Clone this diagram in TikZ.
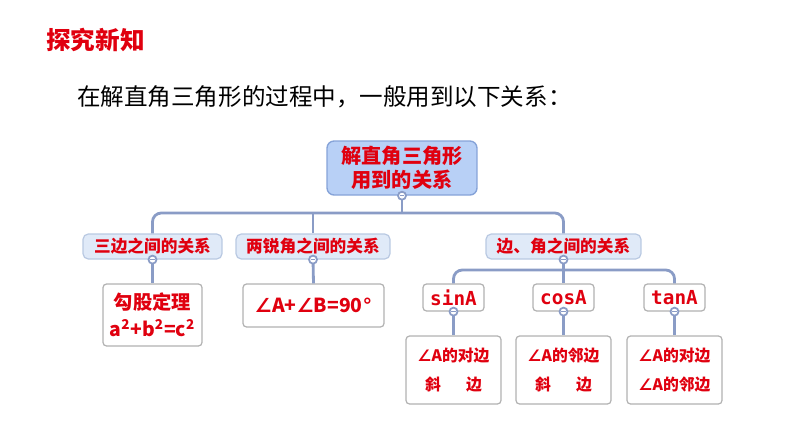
\documentclass[tikz,border=0pt]{standalone}
\usepackage{fontspec}
\setmainfont{Noto Sans CJK SC}
\newfontfamily\symb{DejaVu Sans}
\newfontfamily\mono{DejaVu Sans Mono}
\usetikzlibrary{calc}
\definecolor{mapred}{HTML}{E0000F}
\definecolor{linkblue}{HTML}{8A9CC6}
\definecolor{rootfill}{HTML}{B8D0F6}
\definecolor{rootedge}{HTML}{86A3D8}
\definecolor{subfill}{HTML}{E0EAF8}
\definecolor{subedge}{HTML}{B9C9E2}
\def\handle(#1){\draw[linkblue, line width=1pt, fill=white] (#1) circle [radius=4]; \draw[linkblue, line width=0.8pt] ($(#1)+(-2.2,0)$) -- ($(#1)+(2.2,0)$);}

\begin{document}
\begin{tikzpicture}[x=0.02cm, y=-0.02cm,
	rootbox/.style={draw=rootedge, fill=rootfill, rounded corners=4pt, line width=0.8pt, text=mapred, font=\bfseries\fontsize{11.5}{13.8}\selectfont, align=center, inner sep=0pt},
	subbox/.style={draw=subedge, fill=subfill, rounded corners=3pt, line width=0.7pt, text=mapred, font=\bfseries\fontsize{9.5}{11}\selectfont, inner sep=0pt, minimum height=0.5cm},
	leafbox/.style={draw=black!30, fill=white, rounded corners=2pt, line width=0.7pt, text=mapred, font=\bfseries, align=center, inner sep=0pt},
	link/.style={linkblue, line width=1.6pt}]
		%%%%% START %%%%%
		\useasboundingbox (0, 0) rectangle (794, 447);
		
		\node[text=mapred, font=\bfseries\fontsize{14}{16}\selectfont, anchor=west] (title) at (40, 40) {探究新知};
		\node[font=\fontsize{13.4}{16}\selectfont, anchor=west] (intro) at (71, 97) {在解直角三角形的过程中，一般用到以下关系：};
		
		% root and first level
		\node[rootbox, minimum width=3cm, minimum height=1.08cm] (root) at (402, 168) {解直角三角形\\用到的关系};
		\node[subbox, minimum width=2.78cm] (sides) at (152.5, 246.5) {三边之间的关系};
		\node[subbox, minimum width=3.08cm] (angles) at (313, 246.5) {两锐角之间的关系};
		\node[subbox, minimum width=3.1cm] (mixed) at (563.5, 246.5) {边、角之间的关系};
		
		\coordinate (bar) at (0, 213);
		\draw[link, rounded corners=5] (sides.north) -- (sides.north |- bar) -- (mixed.north |- bar) -- (mixed.north);
		\draw[link] (root.south) -- (root.south |- bar);
		\draw[link] (angles.north) -- (angles.north |- bar);
		
		% second level
		\node[leafbox, minimum width=1.98cm, minimum height=1.24cm, font=\bfseries\fontsize{11}{15.4}\selectfont] (pyth) at (152.5, 315) {勾股定理\\a\textsuperscript{2}+b\textsuperscript{2}=c\textsuperscript{2}};
		\node[leafbox, minimum width=2.82cm, minimum height=0.86cm, font=\bfseries\fontsize{11}{13}\selectfont] (sum) at (313.5, 305.5) {{\symb ∠}A+{\symb ∠}B=90{\symb °}};
		\draw[link] (sides.south) -- (pyth.north);
		\draw[link] (angles.south) -- (sum.north);
		
		\node[leafbox, minimum width=1.22cm, minimum height=0.54cm, font=\mono\bfseries\fontsize{11}{13}\selectfont] (sin) at (453.5, 297.5) {sinA};
		\node[leafbox, minimum width=1.22cm, minimum height=0.54cm, font=\mono\bfseries\fontsize{11}{13}\selectfont] (cos) at (563.5, 297.5) {cosA};
		\node[leafbox, minimum width=1.22cm, minimum height=0.54cm, font=\mono\bfseries\fontsize{11}{13}\selectfont] (tan) at (674.5, 297.5) {tanA};
		
		\coordinate (bar2) at (0, 270);
		\draw[link, rounded corners=5] (sin.north) -- (sin.north |- bar2) -- (tan.north |- bar2) -- (tan.north);
		\draw[link] (mixed.south) -- (cos.north);
		
		% ratios
		\node[leafbox, minimum width=1.9cm, minimum height=1.36cm, font=\bfseries\fontsize{9}{17}\selectfont] (sinr) at (453.5, 370) {{\symb ∠}A的对边\\斜\hspace{1.6em}边};
		\node[leafbox, minimum width=1.9cm, minimum height=1.36cm, font=\bfseries\fontsize{9}{17}\selectfont] (cosr) at (563.5, 370) {{\symb ∠}A的邻边\\斜\hspace{1.6em}边};
		\node[leafbox, minimum width=1.9cm, minimum height=1.36cm, font=\bfseries\fontsize{9}{17}\selectfont] (tanr) at (674.5, 370) {{\symb ∠}A的对边\\{\symb ∠}A的邻边};
		\draw[link] (sin.south) -- (sinr.north);
		\draw[link] (cos.south) -- (cosr.north);
		\draw[link] (tan.south) -- (tanr.north);
		
		% collapse handles
		\handle(root.south)
		\handle(sides.south)
		\handle(angles.south)
		\handle(mixed.south)
		\handle(sin.south)
		\handle(cos.south)
		\handle(tan.south)
		%%%%% END %%%%%
\end{tikzpicture}
\end{document}
